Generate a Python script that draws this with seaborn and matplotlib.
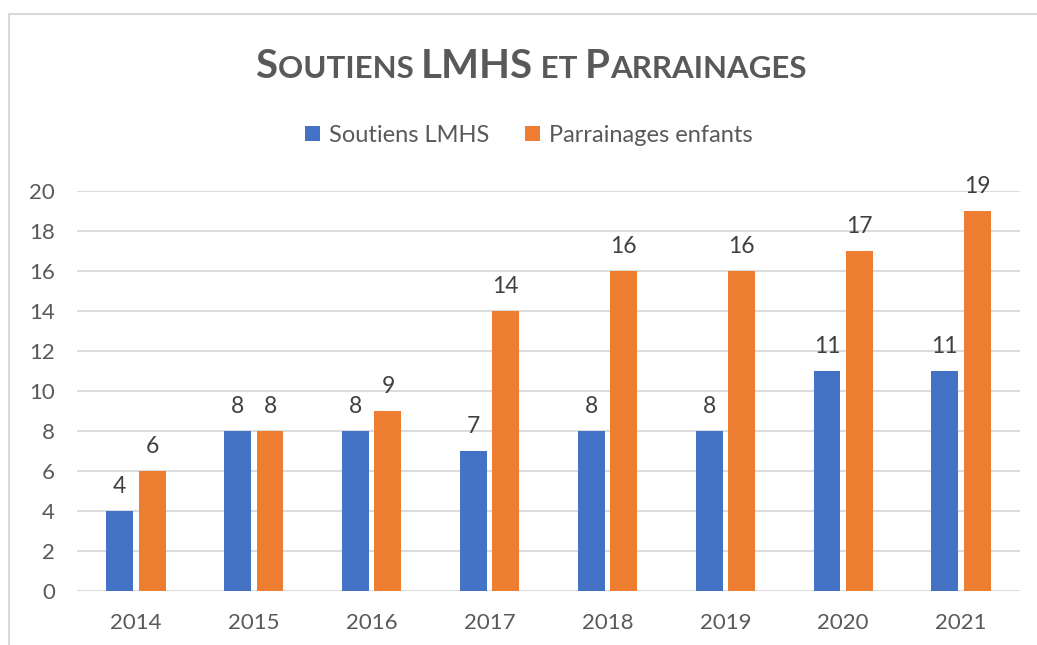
import numpy as np
import pandas as pd
import matplotlib
matplotlib.use("Agg")
import matplotlib.pyplot as plt
import seaborn as sns
from matplotlib.lines import Line2D
from matplotlib.patches import Patch
from matplotlib.offsetbox import TextArea, HPacker, AnnotationBbox

# data
years = ["2014", "2015", "2016", "2017", "2018", "2019", "2020", "2021"]
soutiens = [4, 8, 8, 7, 8, 8, 11, 11]
parrainages = [6, 8, 9, 14, 16, 16, 17, 19]
series_names = ["Soutiens LMHS", "Parrainages enfants"]
colors = ["#4472C4", "#ED7D31"]

df = pd.DataFrame({
    "annee": years * 2,
    "valeur": soutiens + parrainages,
    "serie": [series_names[0]] * len(years) + [series_names[1]] * len(years),
})

sns.set_theme(style="white")
plt.rcParams["font.family"] = ["Lato", "DejaVu Sans"]

W, H = 1037, 645
fig = plt.figure(figsize=(W / 100, H / 100), dpi=100)
ax = fig.add_axes([77 / W, 1 - 590.7 / H, (1020 - 77) / W, 400 / H])

sns.barplot(data=df, x="annee", y="valeur", hue="serie", order=years,
            hue_order=series_names, palette=colors, width=0.55, gap=0.17,
            linewidth=0, saturation=1, ax=ax, legend=False, errorbar=None)

ax.set_ylim(0, 20)
ax.set_xlim(-0.5, len(years) - 0.5)
ax.set_yticks(np.arange(0, 21, 2))
ax.yaxis.grid(True, color="#D9D9D9", linewidth=1.3)
ax.set_axisbelow(True)
for s in ax.spines.values():
    s.set_visible(False)
ax.set_xlabel("")
ax.set_ylabel("")
ax.tick_params(axis="both", length=0, labelsize=16, labelcolor="#595959")
ax.tick_params(axis="y", pad=16)
ax.tick_params(axis="x", pad=16)

for cont in ax.containers:
    ax.bar_label(cont, fmt="%d", padding=10, fontsize=16.5, color="#404040",
                 clip_on=False)

# legend
handles = [Patch(facecolor=c, edgecolor="none") for c in colors]
fig.legend(handles, series_names, loc="center", bbox_to_anchor=(529 / W, 1 - 135 / H),
           ncol=2, frameon=False, fontsize=17, labelcolor="#595959",
           handlelength=0.62, handleheight=0.62, handletextpad=0.4,
           columnspacing=1.5)

# title in small caps
pieces = [("S", 29), ("OUTIENS ", 22.5), ("LMHS", 29), (" ET ", 22.5),
          ("P", 29), ("ARRAINAGES", 22.5)]
areas = [TextArea(t, textprops=dict(fontsize=fs, fontweight="bold", color="#595959"))
         for t, fs in pieces]
pack = HPacker(children=areas, pad=0, sep=0, align="baseline")
ab = AnnotationBbox(pack, (531 / W, 1 - 67 / H), xycoords="figure fraction",
                    frameon=False, box_alignment=(0.5, 0.5), pad=0)
fig.add_artist(ab)

# chart frame
fig.add_artist(Line2D([9 / W, 9 / W], [0, 1 - 14 / H], transform=fig.transFigure,
                      color="#D9D9D9", linewidth=1.5))
fig.add_artist(Line2D([9 / W, 1], [1 - 14 / H, 1 - 14 / H], transform=fig.transFigure,
                      color="#D9D9D9", linewidth=1.5))

fig.savefig("out.png", dpi=100, facecolor="white")
